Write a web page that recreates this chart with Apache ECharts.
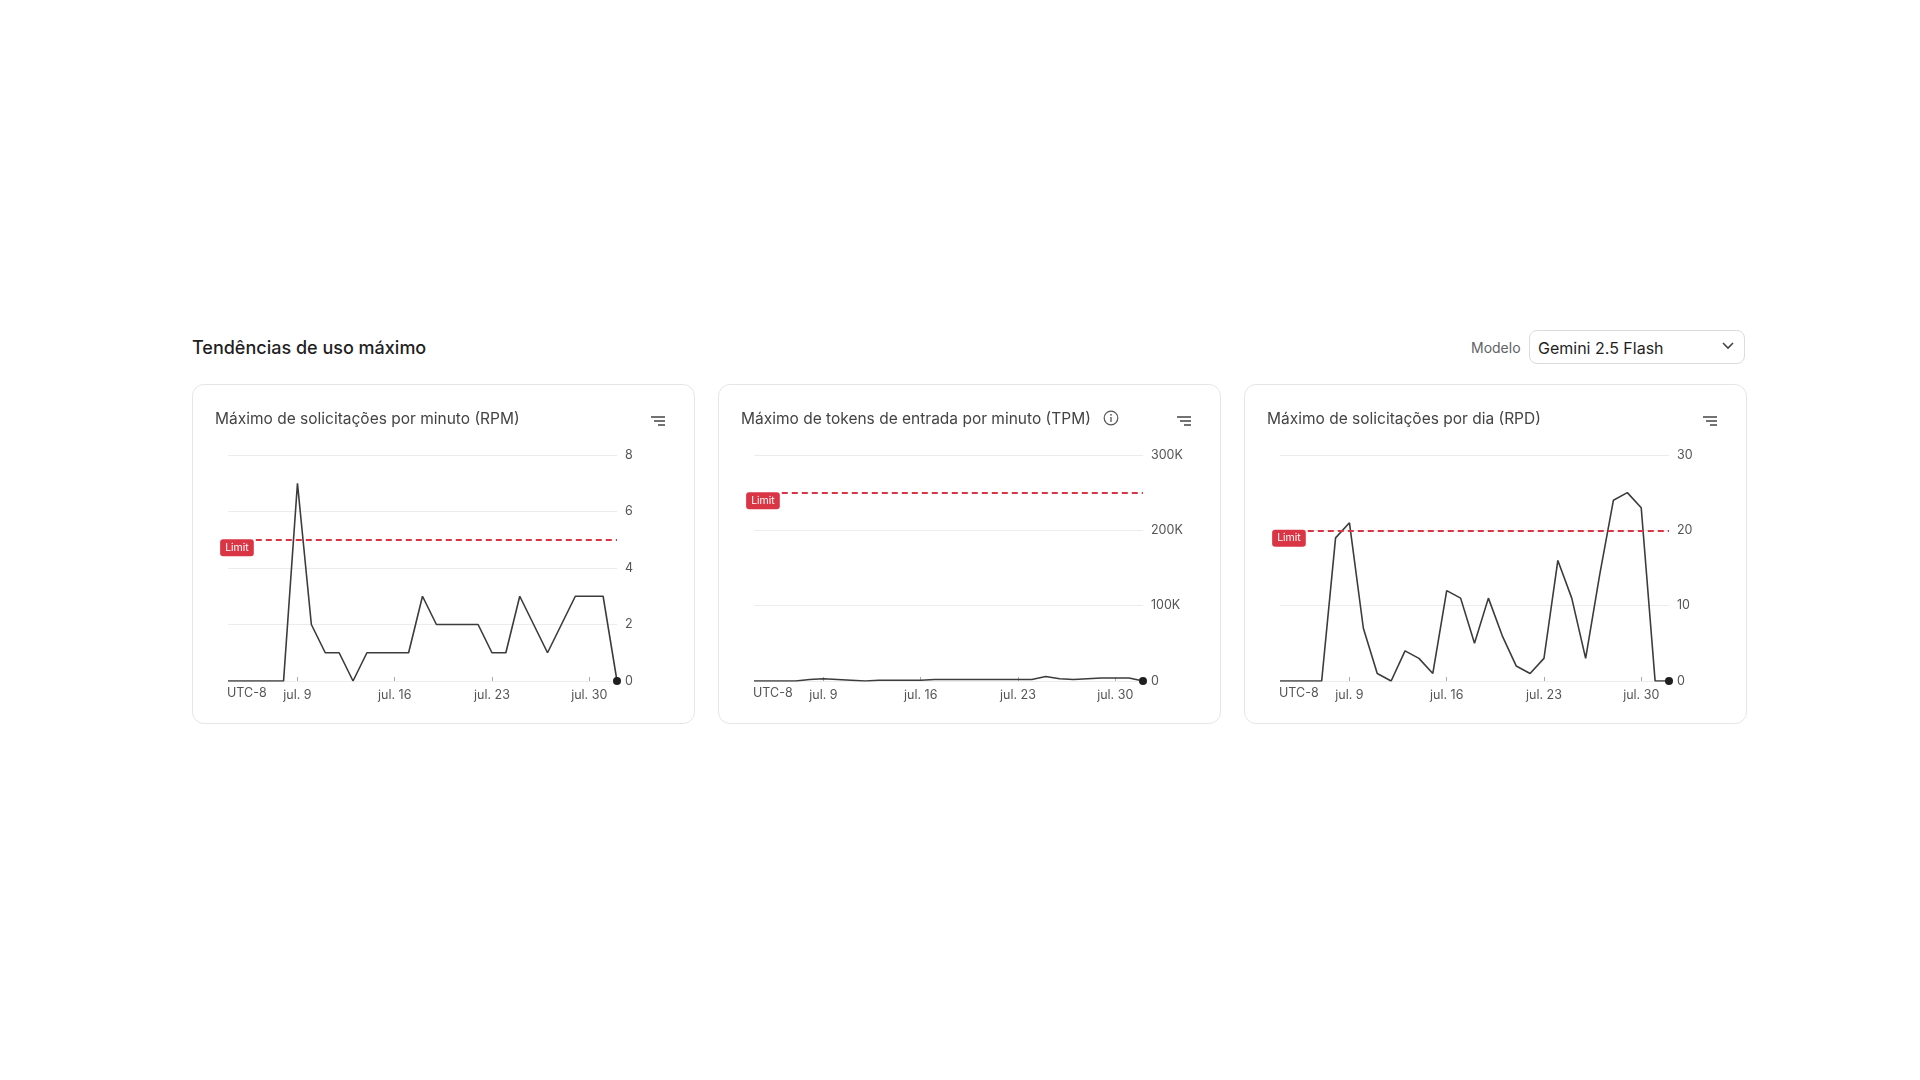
<!DOCTYPE html>
<html><head><meta charset="utf-8">
<script src="https://cdn.jsdelivr.net/npm/echarts@6/dist/echarts.min.js"></script>
<style>
body{margin:0;width:1920px;height:1080px;background:#fff;font-family:Inter,"Noto Sans",sans-serif;position:relative;overflow:hidden}
.h{position:absolute;left:192px;top:337px;font-size:18px;font-weight:500;color:#1f1f1f}
.ml{position:absolute;left:1471px;top:339px;font-size:14px;color:#5f6368}
.dd{position:absolute;left:1529px;top:330px;width:216px;height:34px;border:1px solid #dadce0;border-radius:8px;box-sizing:border-box;font-size:16px;color:#1f1f1f;padding:7px 8px}
.dd svg{position:absolute;right:10px;top:11px}
.card{position:absolute;top:384px;width:503px;height:340px;border:1px solid #e6e6e6;border-radius:12px;box-sizing:border-box}
.ct{position:absolute;left:22px;top:24px;font-size:15.5px;color:#444;z-index:2}
.menu{position:absolute;right:28px;top:30px;z-index:2}
.ch{position:absolute;left:0;top:0;width:503px;height:340px}
</style></head><body>
<div class="h">Tendências de uso máximo</div>
<div class="ml">Modelo</div>
<div class="dd">Gemini 2.5 Flash<svg width="12" height="8"><path d="M1 1 L6 6 L11 1" stroke="#444" stroke-width="1.6" fill="none"/></svg></div>
<div class="card" style="left:192px"><div class="ct">Máximo de solicitações por minuto (RPM)</div><svg class="menu" width="16" height="12"><path d="M1 2H15M4 6H15M8 10H15" stroke="#444" stroke-width="1.6"/></svg><div class="ch" id="c1"></div></div>
<div class="card" style="left:718px"><div class="ct">Máximo de tokens de entrada por minuto (TPM) <svg width="16" height="16" style="vertical-align:-2px;margin-left:8px"><circle cx="8" cy="8" r="6.8" stroke="#555" stroke-width="1.2" fill="none"/><path d="M8 7V12" stroke="#555" stroke-width="1.3"/><circle cx="8" cy="4.8" r="0.9" fill="#555"/></svg></div><svg class="menu" width="16" height="12"><path d="M1 2H15M4 6H15M8 10H15" stroke="#444" stroke-width="1.6"/></svg><div class="ch" id="c2"></div></div>
<div class="card" style="left:1244px"><div class="ct">Máximo de solicitações por dia (RPD)</div><svg class="menu" width="16" height="12"><path d="M1 2H15M4 6H15M8 10H15" stroke="#444" stroke-width="1.6"/></svg><div class="ch" id="c3"></div></div>
<script>
const days = ["jul. 4","jul. 5","jul. 6","jul. 7","jul. 8","jul. 9","jul. 10","jul. 11","jul. 12","jul. 13","jul. 14","jul. 15","jul. 16","jul. 17","jul. 18","jul. 19","jul. 20","jul. 21","jul. 22","jul. 23","jul. 24","jul. 25","jul. 26","jul. 27","jul. 28","jul. 29","jul. 30","jul. 31","ago. 1"];
const shownDays = ["jul. 9","jul. 16","jul. 23","jul. 30"];
const rpm = [0,0,0,0,0,7,2,1,1,0,1,1,1,1,3,2,2,2,2,1,1,3,2,1,2,3,3,3,0];
const tpm = [0,0,0,0,2000,3000,2000,1000,0,1000,1000,1000,1000,2000,2000,2000,2000,2000,2000,2000,2000,6000,3000,2000,3000,4000,4000,4000,0];
const rpd = [0,0,0,0,19,21,7,1,0,4,3,1,12,11,5,11,6,2,1,3,16,11,3,14,24,25,23,0,0];
const limits = {rpm:5, tpm:250000, rpd:20};
const yMax = {rpm:8, tpm:300000, rpd:30};
const yStep = {rpm:2, tpm:100000, rpd:10};

function make(id, values, limit, max, step, fmt){
  const c = echarts.init(document.getElementById(id));
  const data = values.map((v,i)=> i===values.length-1 ? {value:v, symbol:'circle', symbolSize:8, itemStyle:{color:'#1f1f1f'}} : v);
  c.setOption({
    animation:false,
    textStyle:{fontFamily:'Inter'},
    grid:{left:35, top:70, width:389, height:226},
    graphic:[{type:'text', left:34, top:302, style:{text:'UTC-8', fill:'#555', font:'12.5px Inter'}}],
    xAxis:{type:'category', data:days, boundaryGap:false,
      axisLine:{show:false},
      axisTick:{show:true, length:-4, lineStyle:{color:'#aaa'}, interval:(i,v)=>shownDays.includes(v)},
      axisLabel:{color:'#555', fontSize:12.5, margin:8, interval:(i,v)=>shownDays.includes(v)}},
    yAxis:{type:'value', position:'right', min:0, max:max, interval:step,
      axisLabel:{color:'#555', fontSize:12.5, margin:8, formatter:fmt},
      splitLine:{lineStyle:{color:'#ececec'}}},
    series:[{type:'line', data:data, symbol:'none', showSymbol:true, lineStyle:{color:'#3c3c3c', width:1.6},
      markLine:{silent:true, symbol:'none', lineStyle:{color:'#d93545', type:[6,4], width:2},
        label:{show:true, position:'start', formatter:'Limit', color:'#fff', backgroundColor:'#d93545', borderRadius:3, padding:[3,5], fontSize:10.5, distance:2, offset:[0,8]},
        data:[[{coord:[days[2],limit]},{coord:[days[days.length-1],limit]}]]}}]
  });
}
make('c1', rpm, limits.rpm, yMax.rpm, yStep.rpm, v=>v);
make('c2', tpm, limits.tpm, yMax.tpm, yStep.tpm, v=> v===0?'0':(v/1000)+'K');
make('c3', rpd, limits.rpd, yMax.rpd, yStep.rpd, v=>v);
</script></body></html>
